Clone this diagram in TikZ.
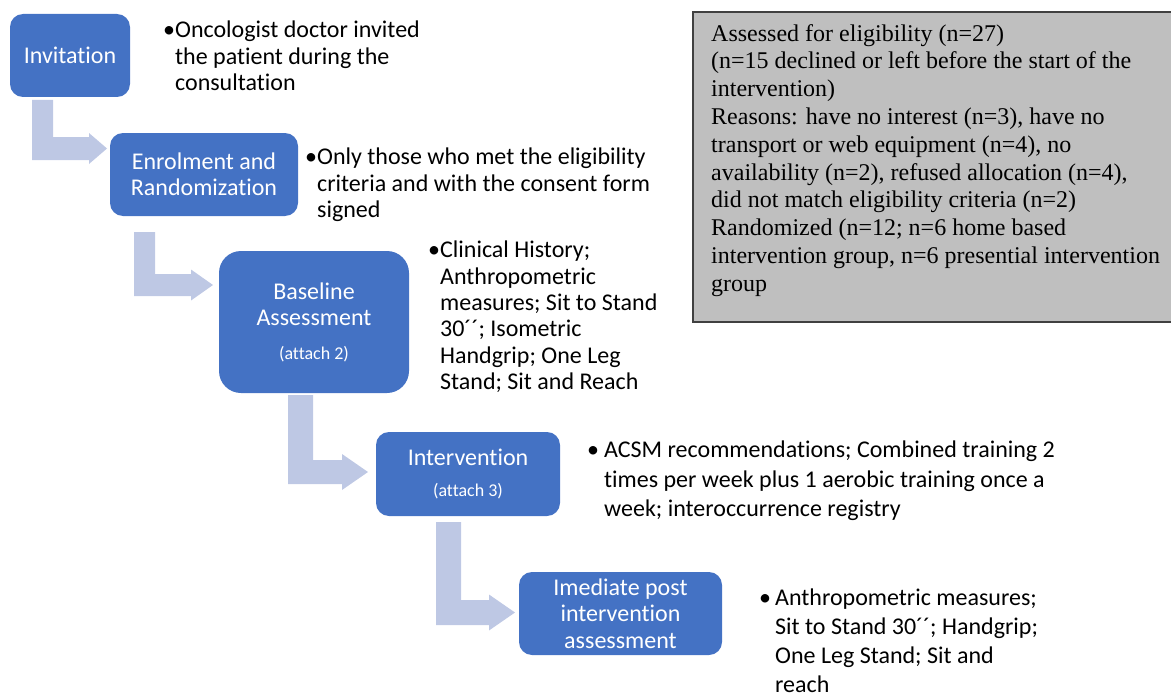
\documentclass[tikz,border=0pt]{standalone}
\usepackage{fontspec}
\setmainfont{Carlito}[Ligatures=NoCommon]
\newfontfamily\notefont{Liberation Serif}
\usetikzlibrary{calc}

\definecolor{boxblue}{HTML}{4472C4}
\definecolor{arrowblue}{RGB}{190,200,228}
\definecolor{notegray}{HTML}{BFBFBF}
\definecolor{noteedge}{HTML}{404040}

% L-shaped block arrow: shaft left x, shaft width, top y,
% bar centre y, bar half thickness, head base x, head half height, tip x
\newcommand\bendarrow[8]{%
  \fill[flowarrow]
    (#1,#3) -- ({#1+#2},#3) -- ({#1+#2},{#4-#5}) -- (#6,{#4-#5})
    -- (#6,{#4-#7}) -- (#8,#4) -- (#6,{#4+#7}) -- (#6,{#4+#5})
    -- (#1,{#4+#5}) -- cycle;}

\tikzset{
  stepbox/.style={fill=boxblue, text=white, rounded corners=#1, align=center,
    inner sep=0pt, font=\fontsize{24}{26.5}\selectfont},
  stepbox/.default=13pt,
  flowarrow/.style={fill=arrowblue},
  bullets/.style={anchor=north west, align=left, inner sep=0pt,
    font=\fontsize{24}{#1}\selectfont},
  bullets/.default=26.3,
  notebox/.style={fill=notegray, draw=noteedge, line width=1.2pt},
  notetext/.style={anchor=north west, align=left, inner sep=0pt,
    font=\notefont\fontsize{24}{27.8}\selectfont}
}

\begin{document}
\begin{tikzpicture}[x=1pt, y=-1pt]
  \useasboundingbox (0,0) rectangle (1171,693);

  % flow steps
  \node[stepbox, minimum width=120pt, minimum height=83pt] (inv) at (70,55.5) {Invitation};
  \node[stepbox, minimum width=188pt, minimum height=83pt] (enr) at (204,174.5)
    {Enrolment and\\Randomization};
  \node[stepbox=22pt, minimum width=190pt, minimum height=142pt] (base) at (314,322)
    {Baseline\\Assessment\\[7pt]{\fontsize{18}{20}\selectfont (attach 2)}};
  \node[stepbox, minimum width=184pt, minimum height=84pt] (intv) at (468,474)
    {Intervention\\[5pt]{\fontsize{18}{20}\selectfont (attach 3)}};
  \node[stepbox, minimum width=203pt, minimum height=83pt] (post) at (620.5,613.5)
    {Imediate post\\intervention\\assessment};

  % connectors between the steps
  \bendarrow{32}{21}{100}{148.5}{11.5}{89}{15.5}{107}
  \bendarrow{134}{21}{232}{285}{11}{191}{15.5}{213}
  \bendarrow{288}{25}{395}{472}{12}{342}{18}{368}
  \bendarrow{436}{25}{522}{612.5}{12.5}{489}{18}{515}

  % step descriptions
  \node[bullets] (d1) at (163,21)
    {•Oncologist doctor invited\\\hphantom{•}the patient during the\\\hphantom{•}consultation};
  \node[bullets] (d2) at (305,148)
    {•Only those who met the eligibility\\\hphantom{•}criteria and with the consent form\\\hphantom{•}signed};
  \node[bullets] (d3) at (428,241)
    {•Clinical History;\\\hphantom{•}Anthropometric\\\hphantom{•}measures; Sit to Stand\\\hphantom{•}30´´; Isometric\\\hphantom{•}Handgrip; One Leg\\\hphantom{•}Stand; Sit and Reach};
  \node[bullets=29.5] (d4) at (587,441)
    {•\hspace{5pt}ACSM recommendations; Combined training 2\\\hphantom{•\hspace{5pt}}times per week plus 1 aerobic training once a\\\hphantom{•\hspace{5pt}}week; interoccurrence registry};
  \node[bullets=29] (d5) at (759,588.5)
    {•\hspace{4pt}Anthropometric measures;\\\hphantom{•\hspace{4pt}}Sit to Stand 30´´; Handgrip;\\\hphantom{•\hspace{4pt}}One Leg Stand; Sit and\\\hphantom{•\hspace{4pt}}reach};

  % recruitment summary
  \draw[notebox] (693,12) rectangle (1200,322);
  \node[notetext] (note) at (711,24)
    {Assessed for eligibility (n=27)\\
     (n=15 declined or left before the start of the\\
     intervention)\\
     Reasons: have no interest (n=3), have no\\
     transport or web equipment (n=4), no\\
     availability (n=2), refused allocation (n=4),\\
     did not match eligibility criteria (n=2)\\
     Randomized (n=12; n=6 home based\\
     intervention group, n=6 presential intervention\\
     group};
\end{tikzpicture}
\end{document}
